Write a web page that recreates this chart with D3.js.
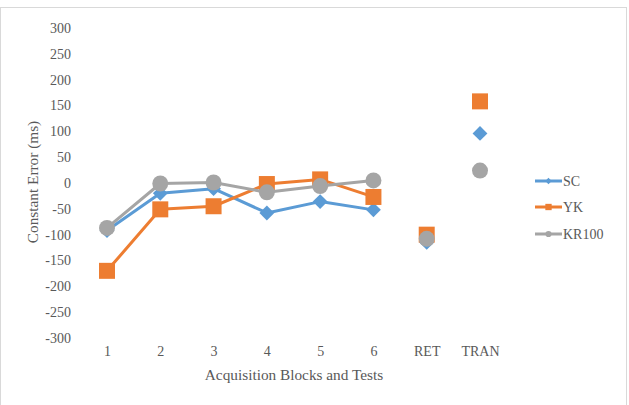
<!DOCTYPE html>
<html><head><meta charset="utf-8">
<script src="https://cdn.jsdelivr.net/npm/d3@7"></script>
<style>body{margin:0;background:#fff}svg{display:block}svg text{font-family:"Liberation Serif","Times New Roman",serif}</style>
</head><body><svg id="c" width="629" height="405"></svg>
<script>
const categories = ["1","2","3","4","5","6","RET","TRAN"];
const scValues = [-92, -20, -11, -58, -36, -52, -115, 96];
const ykValues = [-170, -51, -45, -2, 7, -27, -100, 158];
const kr100Values = [-87, -1, 1, -18, -6, 5, -108, 24];
const yTicks = [-300,-250,-200,-150,-100,-50,0,50,100,150,200,250,300];
const seriesNames = ["SC","YK","KR100"];
const seriesColors = ["#5B9BD5","#ED7D31","#A5A5A5"];
const lineCount = 6; // acquisition blocks connected by lines
const FONT = "'Liberation Serif', 'Times New Roman', serif";

const svg = d3.select("#c");
svg.append("rect").attr("x",0.5).attr("y",7.5).attr("width",626).attr("height",410)
  .attr("fill","#fff").attr("stroke","#d9d9d9");

const x = d3.scalePoint().domain(categories).range([107,480]);
const y = d3.scaleLinear().domain([-300,300]).range([338,28]);

const yAxis = svg.append("g").attr("transform","translate(71,0)")
  .call(d3.axisLeft(y).tickValues(yTicks).tickSize(0).tickPadding(0).tickFormat(d => String(d)));
yAxis.attr("font-family", FONT).attr("font-size", 14);
yAxis.select(".domain").remove();
yAxis.selectAll("text").attr("fill","#595959");

const xAxis = svg.append("g").attr("transform","translate(0,346)")
  .call(d3.axisBottom(x).tickSize(0).tickPadding(0));
xAxis.attr("font-family", FONT).attr("font-size", 14);
xAxis.select(".domain").remove();
xAxis.selectAll("text").attr("fill","#595959");

svg.append("text").attr("x",294).attr("y",380).attr("text-anchor","middle").attr("font-size",15.3)
  .attr("font-family",FONT).attr("fill","#595959").text("Acquisition Blocks and Tests");
svg.append("text").attr("transform","translate(38,182) rotate(-90)").attr("text-anchor","middle").attr("font-size",15.3)
  .attr("font-family",FONT).attr("fill","#595959").text("Constant Error (ms)");

const all = [scValues, ykValues, kr100Values];
const shapes = [d3.symbolSquare, d3.symbolSquare, d3.symbolCircle];
const rot = [45, 0, 0];
const sizes = [110, 256, 200];

all.forEach((vals, i) => {
  const pts = categories.map((c, j) => ({c, v: vals[j], j}));
  const line = d3.line().x(d => x(d.c)).y(d => y(d.v));
  svg.append("path").datum(pts.slice(0, lineCount)).attr("d", line)
    .attr("fill","none").attr("stroke",seriesColors[i]).attr("stroke-width",3).attr("stroke-linejoin","round");
  svg.selectAll(null).data(pts).enter().append("path")
    .attr("transform", d => `translate(${x(d.c)},${y(d.v)}) rotate(${rot[i]})`)
    .attr("d", d3.symbol().type(shapes[i]).size(sizes[i]))
    .attr("fill", seriesColors[i]);
});

// legend
const legY = [181, 207, 234];
seriesNames.forEach((n, i) => {
  const g = svg.append("g").attr("transform", `translate(535,${legY[i]})`);
  g.append("line").attr("x1",0).attr("x2",27).attr("stroke",seriesColors[i]).attr("stroke-width",3);
  g.append("path").attr("transform",`translate(13.5,0) rotate(${rot[i]})`)
    .attr("d", d3.symbol().type(shapes[i]).size(i===1?40:(i===0?20:30))).attr("fill",seriesColors[i]);
  g.append("text").attr("x",28).attr("y",5).attr("font-size",14).attr("font-family",FONT)
    .attr("fill","#595959").text(n);
});
</script></body></html>
